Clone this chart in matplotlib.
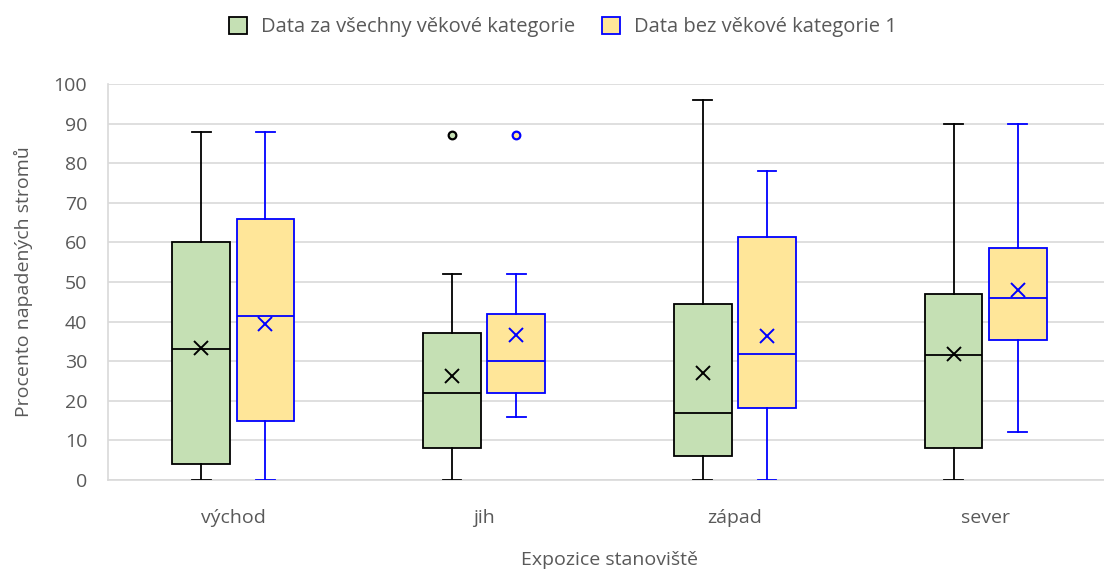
import matplotlib
matplotlib.use("Agg")
import matplotlib.pyplot as plt
from matplotlib.patches import Patch

plt.rcParams["font.family"] = ["Open Sans", "DejaVu Sans"]

categories = ["východ", "jih", "západ", "sever"]
series_names = ["Data za všechny věkové kategorie", "Data bez věkové kategorie 1"]

# box statistics per category: whisker low, q1, median, q3, whisker high, mean
all_wlo = [0, 0, 0, 0]
all_q1 = [4, 8, 6, 8]
all_med = [33, 22, 17, 31.5]
all_q3 = [60, 37, 44.5, 47]
all_whi = [88, 52, 96, 90]
all_mean = [33.3, 26.3, 27.1, 31.8]
all_fliers = [[], [87], [], []]

sub_wlo = [0, 16, 0, 12]
sub_q1 = [15, 22, 18.2, 35.4]
sub_med = [41.5, 30, 31.9, 46]
sub_q3 = [65.8, 42, 61.3, 58.7]
sub_whi = [88, 52, 78, 90]
sub_mean = [39.5, 36.5, 36.3, 48.1]
sub_fliers = [[], [87], [], []]

GREEN = "#C5E0B4"
YELLOW = "#FFE699"
TEXT = "#595959"
GRID = "#D9D9D9"
FS = 14


def make_stats(wlo, q1, med, q3, whi, mean, fliers):
    return [dict(whislo=a, q1=b, med=c, q3=d, whishi=e, mean=f, fliers=g)
            for a, b, c, d, e, f, g in zip(wlo, q1, med, q3, whi, mean, fliers)]


fig = plt.figure(figsize=(11.04, 5.72), dpi=100)
ax = fig.add_axes([108 / 1104, 92 / 572, 1003 / 1104, 396 / 572])

offset = 0.128
width = 0.23
cap = 0.075
groups = [
    (make_stats(all_wlo, all_q1, all_med, all_q3, all_whi, all_mean, all_fliers), -offset, GREEN, "black"),
    (make_stats(sub_wlo, sub_q1, sub_med, sub_q3, sub_whi, sub_mean, sub_fliers), offset, YELLOW, "#0000FF"),
]
for stats, off, fill, edge in groups:
    pos = [i + off for i in range(len(categories))]
    ax.bxp(stats, positions=pos, widths=width, capwidths=cap, patch_artist=True,
           showmeans=True, showfliers=True,
           boxprops=dict(facecolor=fill, edgecolor=edge, linewidth=1.3),
           medianprops=dict(color=edge, linewidth=1.3),
           whiskerprops=dict(color=edge, linewidth=1.3),
           capprops=dict(color=edge, linewidth=1.3),
           meanprops=dict(marker="x", markeredgecolor=edge, markersize=10, markeredgewidth=1.4),
           flierprops=dict(marker="o", markerfacecolor=fill, markeredgecolor=edge,
                           markersize=5.5, markeredgewidth=1.6),
           zorder=3)

ax.set_xlim(-0.5, 3.5)
ax.set_ylim(0, 100)
ax.set_yticks(range(0, 101, 10))
ax.set_xticks(range(len(categories)))
ax.set_xticklabels(categories)
ax.yaxis.grid(True, color=GRID, linewidth=1.2, zorder=0)
ax.set_axisbelow(True)
for side in ["top", "right"]:
    ax.spines[side].set_visible(False)
ax.spines["left"].set_color(GRID)
ax.spines["left"].set_linewidth(1.2)
ax.spines["bottom"].set_color(GRID)
ax.spines["bottom"].set_linewidth(1.2)
ax.tick_params(axis="both", length=0, colors=TEXT, labelsize=FS)
ax.tick_params(axis="y", pad=15)
ax.tick_params(axis="x", pad=21)

ax.set_ylabel("Procento napadených stromů", color=TEXT, fontsize=FS, labelpad=15)
ax.set_xlabel("Expozice stanoviště", color=TEXT, fontsize=FS, labelpad=17)

handles = [Patch(facecolor=GREEN, edgecolor="black", linewidth=1.3),
           Patch(facecolor=YELLOW, edgecolor="#0000FF", linewidth=1.3)]
fig.legend(handles, series_names, loc="center", bbox_to_anchor=(563 / 1104, 1 - 27 / 572),
           ncol=2, frameon=False, fontsize=14.5, labelcolor=TEXT,
           handlelength=0.9, handleheight=0.9, handletextpad=0.7, columnspacing=1.3)

fig.savefig("out.png", dpi=100)
